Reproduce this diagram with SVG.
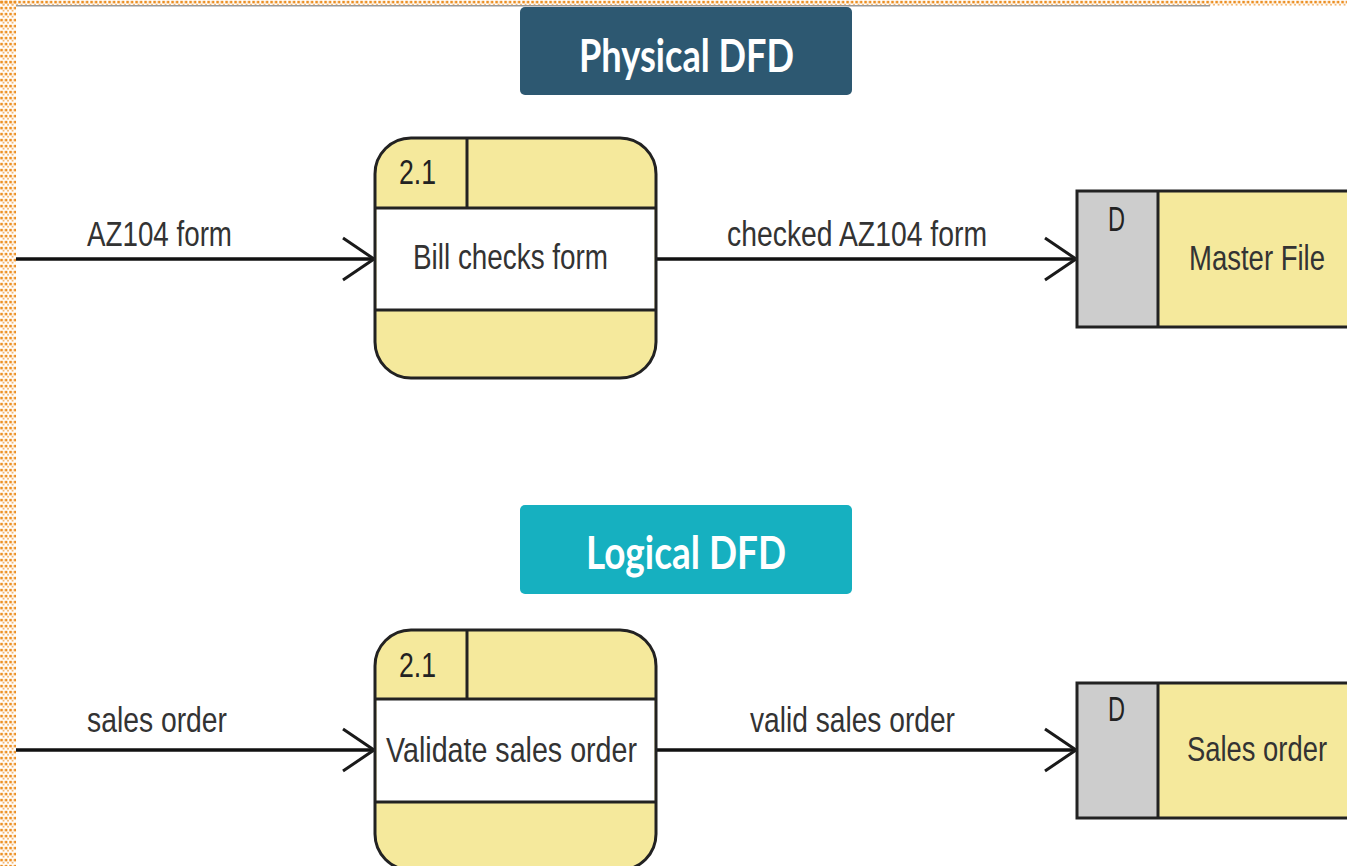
<svg xmlns="http://www.w3.org/2000/svg" width="1347" height="866" viewBox="0 0 1347 866">
<defs>
<pattern id="dots" width="4.5" height="6" patternUnits="userSpaceOnUse">
<rect x="0.3" y="0.8" width="2.6" height="2.6" fill="#EC8F22"/>
<rect x="2.6" y="3.8" width="1.8" height="1.8" fill="#F3B36A"/>
</pattern>
<marker id="chev" viewBox="0 0 34 46" refX="32" refY="23" markerWidth="34" markerHeight="46" markerUnits="userSpaceOnUse" orient="auto">
<path d="M1,2 L32,23 L1,44" fill="none" stroke="#1a1a1a" stroke-width="3"/>
</marker>
</defs>
<style>
.lbl{font-family:"Liberation Sans",Arial,sans-serif;font-size:35px;fill:#333}
.num{font-family:"Liberation Sans",Arial,sans-serif;font-size:35px;fill:#222}
.title{font-family:Lato,"Open Sans",sans-serif;font-weight:bold;font-size:46px;fill:#fff}
.edge{stroke:#111;stroke-width:3.5;fill:none}
.bord{stroke:#222;stroke-width:3;fill:none}
.yel{fill:#F5E99C}
.gry{fill:#CDCDCD}
</style>
<rect width="1347" height="866" fill="#fff"/>
<g id="frame">
<rect x="0" y="0" width="1347" height="6" fill="url(#dots)"/>
<rect x="0" y="0" width="16" height="866" fill="url(#dots)"/>
<rect x="16" y="5" width="1194" height="1.5" fill="#999"/>
</g>
<g id="title-physical">
<rect x="520" y="7" width="332" height="88" rx="5" fill="#2D5871"/>
<text class="title" x="579" y="72" textLength="215" lengthAdjust="spacingAndGlyphs">Physical DFD</text>
</g>
<g id="title-logical">
<rect x="520" y="505" width="332" height="89" rx="5" fill="#16B0C0"/>
<text class="title" x="586" y="569" textLength="200" lengthAdjust="spacingAndGlyphs">Logical DFD</text>
</g>
<g id="connectors">
<line class="edge" x1="16" y1="259" x2="374" y2="259" marker-end="url(#chev)"/>
<line class="edge" x1="656" y1="259" x2="1076" y2="259" marker-end="url(#chev)"/>
<line class="edge" x1="16" y1="750" x2="374" y2="750" marker-end="url(#chev)"/>
<line class="edge" x1="656" y1="750" x2="1076" y2="750" marker-end="url(#chev)"/>
<text class="lbl" x="87" y="246" textLength="145" lengthAdjust="spacingAndGlyphs">AZ104 form</text>
<text class="lbl" x="727" y="246" textLength="260" lengthAdjust="spacingAndGlyphs">checked AZ104 form</text>
<text class="lbl" x="87" y="732" textLength="140" lengthAdjust="spacingAndGlyphs">sales order</text>
<text class="lbl" x="750" y="732" textLength="205" lengthAdjust="spacingAndGlyphs">valid sales order</text>
</g>
<g id="process-physical">
<rect class="yel" x="375" y="138" width="281" height="240" rx="36"/>
<rect x="376.5" y="208" width="278" height="102" fill="#fff"/>
<line class="bord" x1="375" y1="208" x2="656" y2="208"/>
<line class="bord" x1="375" y1="310" x2="656" y2="310"/>
<line class="bord" x1="467" y1="138" x2="467" y2="208"/>
<rect class="bord" x="375" y="138" width="281" height="240" rx="36"/>
<text class="num" x="399" y="184" textLength="37" lengthAdjust="spacingAndGlyphs">2.1</text>
<text class="lbl" x="413" y="269" textLength="195" lengthAdjust="spacingAndGlyphs">Bill checks form</text>
</g>
<g id="store-physical">
<rect class="yel" x="1077" y="191" width="290" height="136"/>
<rect class="gry" x="1077" y="191" width="81" height="136"/>
<rect class="bord" x="1077" y="191" width="290" height="136"/>
<line class="bord" x1="1158" y1="191" x2="1158" y2="327"/>
<text class="num" x="1108" y="231" textLength="17" lengthAdjust="spacingAndGlyphs">D</text>
<text class="lbl" x="1189" y="270" textLength="136" lengthAdjust="spacingAndGlyphs">Master File</text>
</g>
<g id="process-logical">
<rect class="yel" x="375" y="630" width="281" height="240" rx="36"/>
<rect x="376.5" y="699" width="278" height="103" fill="#fff"/>
<line class="bord" x1="375" y1="699" x2="656" y2="699"/>
<line class="bord" x1="375" y1="802" x2="656" y2="802"/>
<line class="bord" x1="467" y1="630" x2="467" y2="699"/>
<rect class="bord" x="375" y="630" width="281" height="240" rx="36"/>
<text class="num" x="399" y="677" textLength="37" lengthAdjust="spacingAndGlyphs">2.1</text>
<text class="lbl" x="386" y="762" textLength="251" lengthAdjust="spacingAndGlyphs">Validate sales order</text>
</g>
<g id="store-logical">
<rect class="yel" x="1077" y="683" width="290" height="135"/>
<rect class="gry" x="1077" y="683" width="81" height="135"/>
<rect class="bord" x="1077" y="683" width="290" height="135"/>
<line class="bord" x1="1158" y1="683" x2="1158" y2="818"/>
<text class="num" x="1108" y="721" textLength="17" lengthAdjust="spacingAndGlyphs">D</text>
<text class="lbl" x="1187" y="761" textLength="140" lengthAdjust="spacingAndGlyphs">Sales order</text>
</g>
</svg>
